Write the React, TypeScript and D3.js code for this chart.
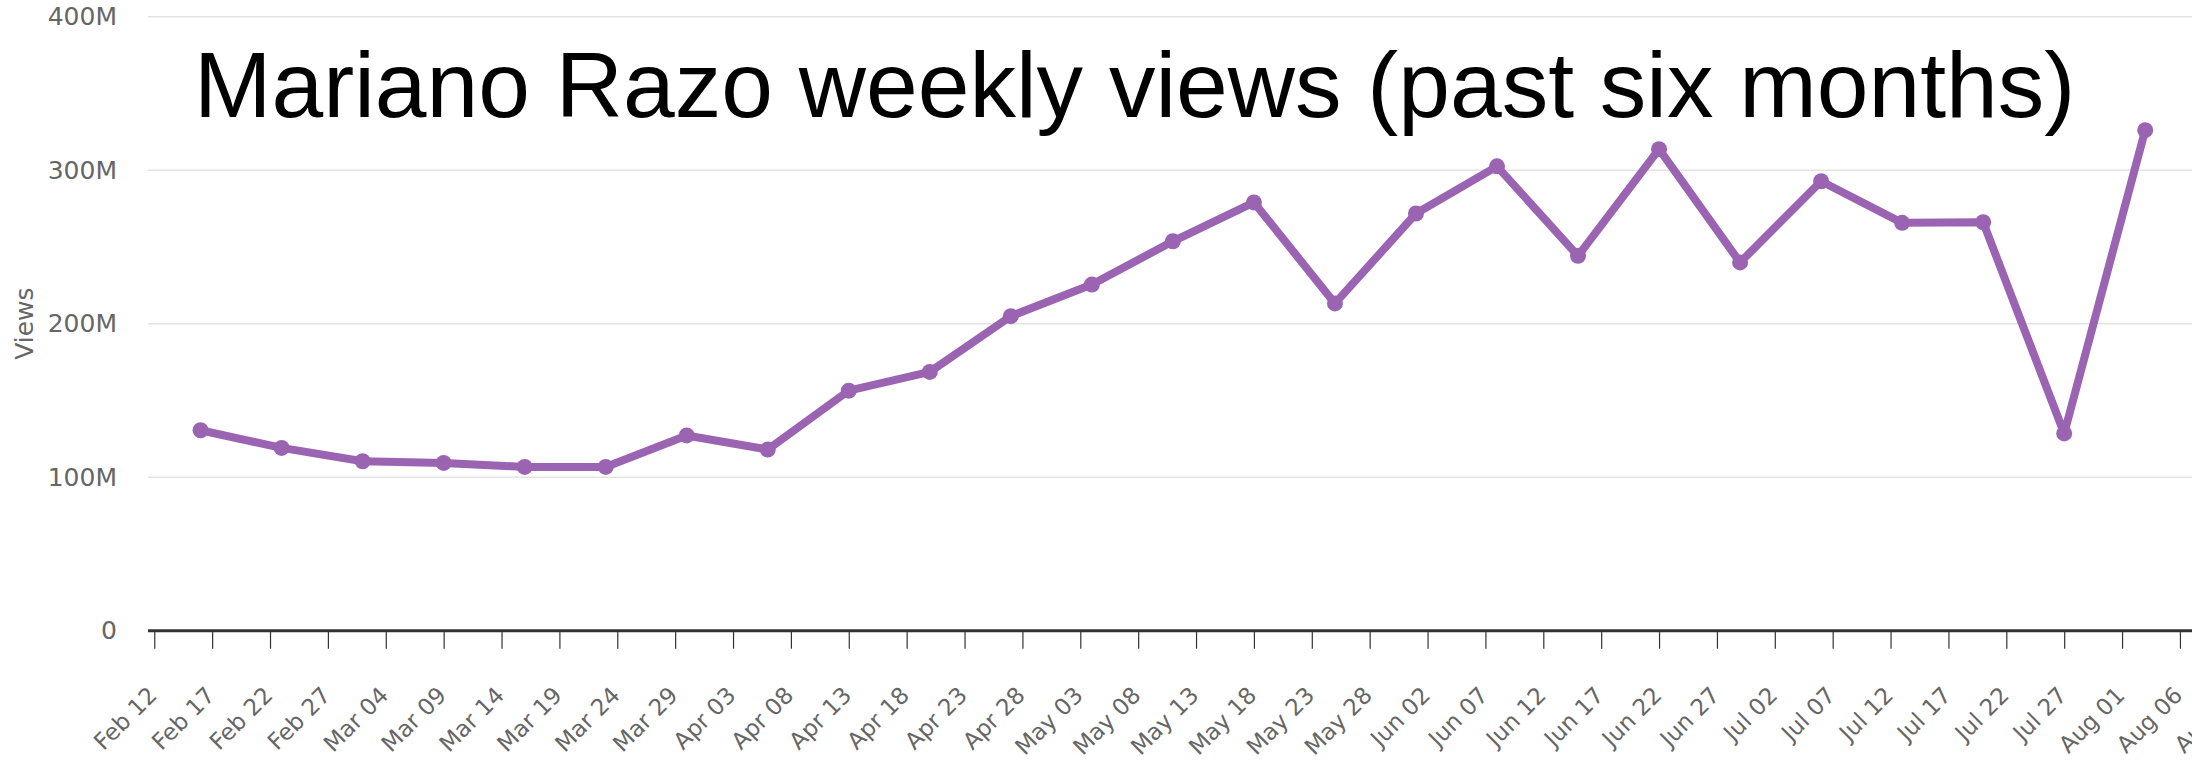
import { useEffect, useRef } from 'react';
import * as d3 from 'd3';

// weekly points, Feb 16 2023 onwards
const weekStarts: string[] = [
  '2023-02-16', '2023-02-23', '2023-03-02', '2023-03-09', '2023-03-16',
  '2023-03-23', '2023-03-30', '2023-04-06', '2023-04-13', '2023-04-20',
  '2023-04-27', '2023-05-04', '2023-05-11', '2023-05-18', '2023-05-25',
  '2023-06-01', '2023-06-08', '2023-06-15', '2023-06-22', '2023-06-29',
  '2023-07-06', '2023-07-13', '2023-07-20', '2023-07-27', '2023-08-03',
];

// views in millions
const weeklyViews: number[] = [
  130.6, 119.1, 110.4, 109.3, 106.7,
  106.7, 127.2, 118.0, 156.4, 168.6,
  204.9, 225.5, 253.7, 279.0, 213.2,
  271.8, 302.5, 244.2, 313.7, 239.9,
  292.8, 265.7, 266.1, 128.5, 326.1,
];

const yTicks: number[] = [0, 100, 200, 300, 400];

const TITLE = 'Mariano Razo weekly views (past six months)';
const Y_LABEL = 'Views';

const WIDTH = 2192;
const HEIGHT = 764;
const LINE_COLOR = '#9b64b3';
const LABEL_FONT = '"DejaVu Sans", sans-serif';

export default function App() {
  const svgRef = useRef<SVGSVGElement>(null);

  useEffect(() => {
    if (!svgRef.current) return;

    d3.select(svgRef.current).selectAll('*').remove();

    const margin = { left: 148, top: 16.7, bottom: 630.7 };
    const parse = d3.timeParse('%Y-%m-%d');
    const data = weekStarts.map((d, i) => ({ date: parse(d) as Date, value: weeklyViews[i] * 1e6 }));

    const svg = d3.select(svgRef.current)
      .attr('width', WIDTH)
      .attr('height', HEIGHT);

    const xScale = d3.scaleTime()
      .domain([new Date(2023, 1, 11, 11), new Date(2023, 7, 7, 1)])
      .range([margin.left, WIDTH]);

    const yScale = d3.scaleLinear()
      .domain([0, 400e6])
      .range([margin.bottom, margin.top]);

    // grid
    svg.append('g')
      .selectAll('line')
      .data(yTicks.slice(1))
      .join('line')
      .attr('x1', margin.left)
      .attr('x2', WIDTH)
      .attr('y1', (d) => yScale(d * 1e6))
      .attr('y2', (d) => yScale(d * 1e6))
      .attr('stroke', '#e3e3e3')
      .attr('stroke-width', 1.5);

    // y labels
    svg.append('g')
      .selectAll('text')
      .data(yTicks)
      .join('text')
      .attr('x', 117)
      .attr('y', (d) => yScale(d * 1e6))
      .attr('dy', '0.35em')
      .attr('text-anchor', 'end')
      .attr('font-family', LABEL_FONT)
      .attr('font-size', 25)
      .attr('fill', '#666')
      .text((d) => d3.format('~s')(d * 1e6));

    svg.append('text')
      .attr('transform', `translate(33,${(margin.top + margin.bottom) / 2}) rotate(-90)`)
      .attr('text-anchor', 'middle')
      .attr('font-family', LABEL_FONT)
      .attr('font-size', 25)
      .attr('fill', '#666')
      .text(Y_LABEL);

    // x axis, ticks every 5 days from Feb 12
    const xTicks = d3.timeDay.range(new Date(2023, 1, 12), new Date(2023, 7, 12), 1)
      .filter((_, i) => i % 5 === 0);

    const xAxis = d3.axisBottom(xScale)
      .tickValues(xTicks)
      .tickSize(18)
      .tickSizeOuter(0)
      .tickFormat(() => '');

    const axisG = svg.append('g')
      .attr('transform', `translate(0,${margin.bottom})`)
      .call(xAxis);
    axisG.select('.domain')
      .attr('stroke', '#333')
      .attr('stroke-width', 3)
      .attr('d', `M${margin.left},0H${WIDTH}`);
    axisG.selectAll('.tick line').attr('stroke', '#333').attr('stroke-width', 1.2);

    const fmt = d3.timeFormat('%b %d');
    svg.append('g')
      .selectAll('text')
      .data(xTicks)
      .join('text')
      .attr('transform', (d) => `translate(${xScale(d) + 4},${margin.bottom + 66}) rotate(-45)`)
      .attr('text-anchor', 'end')
      .attr('font-family', LABEL_FONT)
      .attr('font-size', 23)
      .attr('fill', '#666')
      .text((d) => fmt(d));

    // line + dots
    const line = d3.line<{ date: Date; value: number }>()
      .x((d) => xScale(d.date))
      .y((d) => yScale(d.value));

    svg.append('path')
      .datum(data)
      .attr('d', line)
      .attr('fill', 'none')
      .attr('stroke', LINE_COLOR)
      .attr('stroke-width', 8)
      .attr('stroke-linejoin', 'round');

    svg.append('g')
      .selectAll('circle')
      .data(data)
      .join('circle')
      .attr('cx', (d) => xScale(d.date))
      .attr('cy', (d) => yScale(d.value))
      .attr('r', 8)
      .attr('fill', LINE_COLOR);

    svg.append('text')
      .attr('x', 194)
      .attr('y', 117)
      .attr('font-family', '"Liberation Sans", Arial, sans-serif')
      .attr('font-size', 93)
      .attr('fill', '#000')
      .text(TITLE);
  }, []);

  return <svg ref={svgRef} style={{ position: 'absolute', left: 0, top: 0, background: '#fff' }} />;
}
